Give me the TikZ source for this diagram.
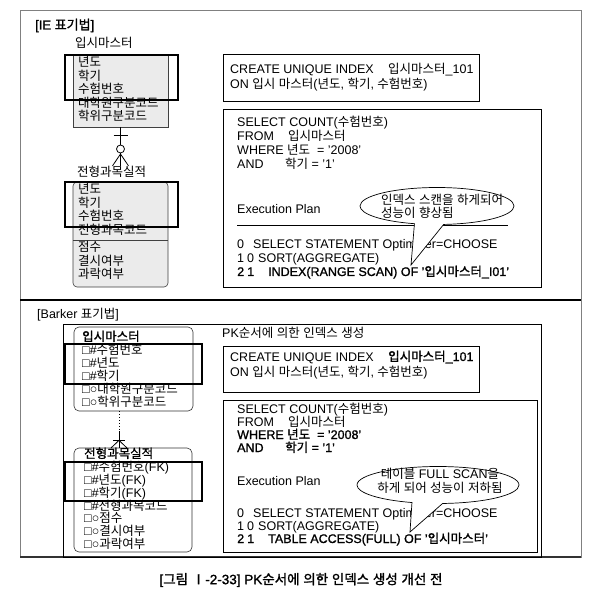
\documentclass[tikz,border=0pt]{standalone}
\usepackage{fontspec}
\setmainfont{Liberation Sans}[BoldFont={Liberation Sans},BoldFeatures={FakeBold=1.2}]
\newfontfamily\kofont{Noto Sans CJK KR}[BoldFont={Noto Sans CJK KR},BoldFeatures={FakeBold=1.4}]
% Hangul in Noto Sans CJK KR, the rest in Liberation Sans
\XeTeXinterchartokenstate=1
\newXeTeXintercharclass\KoClass
\newcount\kochar
\kochar="AC00
\loop
  \XeTeXcharclass\kochar=\KoClass
  \ifnum\kochar<"D7A3
  \advance\kochar by 1
\repeat
\XeTeXcharclass"2160=\KoClass
\XeTeXinterchartoks 0 \KoClass = {\kofont}
\XeTeXinterchartoks 4095 \KoClass = {\kofont}
\XeTeXinterchartoks \KoClass 0 = {\rmfamily}
\XeTeXinterchartoks \KoClass 4095 = {\rmfamily}
\usetikzlibrary{positioning,shapes.callouts}

\tikzset{
  frameline/.style={draw=black!50, line width=0.7pt},
  iebox/.style={draw=black!75, fill=black!8, line width=0.6pt, inner sep=0pt, outer sep=0pt, anchor=north west},
  barkerbox/.style={draw=black!80, rounded corners=5pt, line width=0.6pt, inner sep=0pt, outer sep=0pt, anchor=north west},
  pkmark/.style={draw=black, line width=1.5pt, inner sep=0pt, outer sep=0pt, anchor=north west},
  sqlbox/.style={draw=black, line width=1pt, inner sep=0pt, outer sep=0pt, anchor=north west},
  entrow/.style={inner sep=0pt, anchor=base west, font=\fontsize{12.5}{13.5}\selectfont},
  sqlline/.style={inner sep=0pt, anchor=base west, font=\fontsize{12.5}{13.5}\selectfont},
  bubble/.style={ellipse callout, draw=black, fill=white, line width=0.7pt, inner sep=0pt, callout pointer arc=22},
}

\begin{document}
\begin{tikzpicture}[x=1pt, y=-1pt]
  \fill[white] (0,0) rectangle (604,601);
  \path[use as bounding box] (0,0) rectangle (604,601);
  % Frame
  \draw[frameline] (20,10) rectangle (581,557);
  \draw[line width=1.1pt] (20,300) -- (581,300);
  \draw[line width=1.3pt, black!80] (20,557) -- (581,557);

  % IE notation
  \node[entrow, font=\fontsize{13}{13.5}\selectfont\bfseries] (ie title) at (35,29.5) {[IE 표기법]};
  % Master entity
  \node[entrow] (ie master label) at (75,47.5) {입시마스터};
  \node[iebox, minimum width=95pt, minimum height=72pt] (ie master) at (73,55) {};
  \draw[black!75, line width=0.6pt] (73,100) -- (168,100);
  \node[entrow] (ie master year) at (78,67) {년도};
  \node[entrow] (ie master term) at (78,80.5) {학기};
  \node[entrow] (ie master exam) at (78,94) {수험번호};
  \node[entrow] (ie master grad) at (78,107.5) {대학원구분코드};
  \node[entrow] (ie master degree) at (78,121) {학위구분코드};
  \node[pkmark, minimum width=113pt, minimum height=45pt] (ie master pk) at (65,55) {};
  % Result entity
  \node[entrow] (ie result label) at (77,176.5) {전형과목실적};
  \node[iebox, rounded corners=4pt, minimum width=95pt, minimum height=105pt] (ie result) at (73,182) {};
  \draw[black!75, line width=0.6pt] (73,240) -- (168,240);
  \node[entrow] (ie result year) at (78,194) {년도};
  \node[entrow] (ie result term) at (78,207.5) {학기};
  \node[entrow] (ie result exam) at (78,221) {수험번호};
  \node[entrow] (ie result subject) at (78,234.5) {전형과목코드};
  \node[entrow] (ie result score) at (78,252) {점수};
  \node[entrow] (ie result absent) at (78,265.5) {결시여부};
  \node[entrow] (ie result fail) at (78,279) {과락여부};
  \node[pkmark, minimum width=113pt, minimum height=45pt] (ie result pk) at (65,182) {};
  % Relationship
  \coordinate (ie foot) at (ie master.south |- ie result label.north);
  \draw[line width=0.8pt] (ie master.south) -- (ie foot);
  \draw[line width=0.8pt] ([xshift=-7pt, yshift=-8pt]ie master.south) -- ([xshift=7pt, yshift=-8pt]ie master.south);
  \draw[line width=0.8pt, fill=white] ([yshift=-22pt]ie master.south) circle[radius=4pt];
  \draw[line width=0.8pt] ([xshift=-8pt]ie foot) -- ([yshift=-27pt]ie master.south) -- ([xshift=8pt]ie foot);

  % Index
  \node[sqlbox, minimum width=256pt, minimum height=47pt] (ie create) at (223,55) {};
  \node[sqlline] (ie create one) at (230,74) {\makebox[158pt][l]{CREATE UNIQUE INDEX}입시마스터\_101};
  \node[sqlline] (ie create two) at (230,89) {ON 입시 마스터(년도, 학기, 수험번호)};
  % Query and plan
  \node[sqlbox, minimum width=318pt, minimum height=177pt] (ie query) at (223,110) {};
  \node[sqlline] (ie select) at (237,127) {SELECT COUNT(수험번호)};
  \node[sqlline] (ie from) at (237,141) {\makebox[51pt][l]{FROM}입시마스터};
  \node[sqlline] (ie where) at (237,155) {WHERE 년도\ \ = '2008'};
  \node[sqlline] (ie and) at (237,169) {\makebox[48pt][l]{AND}학기 = '1'};
  \node[sqlline] (ie plan) at (237,214) {Execution Plan};
  \draw[line width=1pt] (237,226) -- (508,226);
  \node[sqlline] (ie step0) at (237,249) {\makebox[16pt][l]{0}SELECT STATEMENT Optimizer=CHOOSE};
  \node[sqlline] (ie step1) at (237,262) {\makebox[10pt][l]{1}\makebox[11pt][l]{0}SORT(AGGREGATE)};
  \node[sqlline, font=\fontsize{12.5}{13.5}\selectfont\bfseries] (ie step2) at (237,276) {\makebox[10pt][l]{2}\makebox[21pt][l]{1}INDEX(RANGE SCAN) OF '입시마스터\_I01'};
  \coordinate (ie tip) at (411,265);
  \node[bubble, minimum width=154pt, minimum height=37pt, callout absolute pointer={(ie tip)}] (ie bubble) at (437,206) {};
  \node[sqlline, anchor=west, align=left] (ie bubble text) at (381,206.5) {인덱스 스캔을 하게되어\\성능이 향상됨};

  % Barker notation
  \node[entrow] (barker title) at (37,318.5) {[Barker 표기법]};
  \draw[line width=0.7pt] (63,324) rectangle (541,557);
  \node[sqlline] (barker note) at (222,337) {PK순서에 의한 인덱스 생성};
  % Master entity
  \node[barkerbox, minimum width=119pt, minimum height=84pt] (barker master) at (74,327) {};
  \node[entrow, font=\fontsize{12.5}{13.5}\selectfont\bfseries] (barker master label) at (82,341) {입시마스터};
  \node[entrow] (barker master exam) at (82,354) {□\#수험번호};
  \node[entrow] (barker master year) at (82,367) {□\#년도};
  \node[entrow] (barker master term) at (82,380) {□\#학기};
  \node[entrow] (barker master grad) at (82,393) {□○대학원구분코드};
  \node[entrow] (barker master degree) at (82,406) {□○학위구분코드};
  \node[pkmark, minimum width=137pt, minimum height=40pt] (barker master pk) at (65,344) {};
  % Result entity
  \node[barkerbox, minimum width=118pt, minimum height=104pt] (barker result) at (74,448) {};
  \node[entrow, font=\fontsize{12.5}{13.5}\selectfont\bfseries] (barker result label) at (84,458) {전형과목실적};
  \node[entrow] (barker result exam) at (84,471) {□\#수험번호(FK)};
  \node[entrow] (barker result year) at (84,484) {□\#년도(FK)};
  \node[entrow] (barker result term) at (84,497) {□\#학기(FK)};
  \node[entrow] (barker result subject) at (84,510) {□\#전형과목코드};
  \node[entrow] (barker result score) at (84,522.5) {□○점수};
  \node[entrow] (barker result absent) at (84,535.5) {□○결시여부};
  \node[entrow] (barker result fail) at (84,548) {□○과락여부};
  \node[pkmark, minimum width=137pt, minimum height=39pt] (barker result pk) at (65,462) {};
  % Relationship
  \coordinate (barker link) at (119,0);
  \coordinate (barker foot) at (barker link |- barker result.north);
  \path (barker link |- barker master.south) -- (barker foot) coordinate[pos=0.55] (barker mid);
  \draw[dotted, line width=1pt] (barker link |- barker master.south) -- (barker mid);
  \draw[line width=0.8pt] (barker mid) -- (barker foot);
  \draw[line width=0.8pt] ([xshift=-6pt, yshift=-9pt]barker mid) -- ([xshift=6pt, yshift=-9pt]barker mid);
  \draw[line width=0.8pt] ([xshift=-8pt]barker foot) -- ([yshift=-9pt]barker mid) -- ([xshift=8pt]barker foot);

  % Index
  \node[sqlbox, minimum width=256pt, minimum height=46pt] (barker create) at (223,346) {};
  \node[sqlline] (barker create one) at (230,361) {\makebox[158pt][l]{CREATE UNIQUE INDEX}\textbf{입시마스터\_101}};
  \node[sqlline] (barker create two) at (230,376) {ON 입시 마스터(년도, 학기, 수험번호)};
  % Query and plan
  \node[sqlbox, minimum width=314pt, minimum height=152pt] (barker query) at (223,400) {};
  \node[sqlline] (barker select) at (237,413) {SELECT COUNT(수험번호)};
  \node[sqlline] (barker from) at (237,426) {\makebox[51pt][l]{FROM}입시마스터};
  \node[sqlline, font=\fontsize{12.5}{13.5}\selectfont\bfseries] (barker where) at (237,439) {WHERE 년도\ \ = '2008'};
  \node[sqlline, font=\fontsize{12.5}{13.5}\selectfont\bfseries] (barker and) at (237,452) {\makebox[48pt][l]{AND}학기 = '1'};
  \node[sqlline] (barker plan) at (237,485) {Execution Plan};
  \node[sqlline] (barker step0) at (237,517) {\makebox[16pt][l]{0}SELECT STATEMENT Optimizer=CHOOSE};
  \node[sqlline] (barker step1) at (237,530) {\makebox[10pt][l]{1}\makebox[11pt][l]{0}SORT(AGGREGATE)};
  \node[sqlline, font=\fontsize{12.5}{13.5}\selectfont\bfseries] (barker step2) at (237,543) {\makebox[10pt][l]{2}\makebox[21pt][l]{1}TABLE ACCESS(FULL) OF '입시마스터'};
  \coordinate (barker tip) at (410,532);
  \node[bubble, minimum width=162pt, minimum height=37pt, callout absolute pointer={(barker tip)}] (barker bubble) at (438,485) {};
  \node[sqlline, anchor=center, align=center] (barker bubble text) at (440,481) {테이블 FULL SCAN을\\하게 되어 성능이 저하됨};

  % Caption
  \node[inner sep=0pt, font=\fontsize{13.5}{14}\selectfont\bfseries] (caption) at (301,580) {[그림 Ⅰ-2-33] PK순서에 의한 인덱스 생성 개선 전};
\end{tikzpicture}
\end{document}
